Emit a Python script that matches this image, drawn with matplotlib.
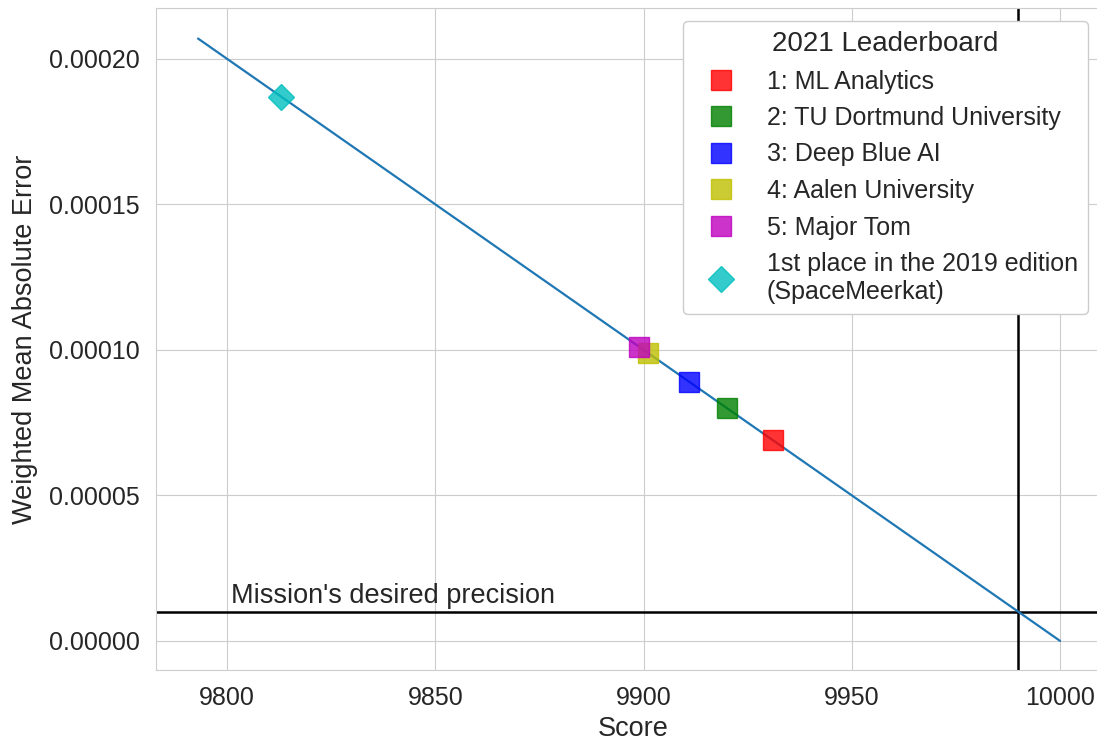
import matplotlib
matplotlib.use("Agg")
import matplotlib.pyplot as plt
import seaborn as sns
import numpy as np

sns.set_style("whitegrid")
plt.rcParams["font.family"] = ["Liberation Sans", "DejaVu Sans"]

# 2021 leaderboard (score, weighted MAE)
teams = [
    "1: ML Analytics",
    "2: TU Dortmund University",
    "3: Deep Blue AI",
    "4: Aalen University",
    "5: Major Tom",
]
team_scores = [9931, 9920, 9911, 9901, 9899]
team_wmae = [0.000069, 0.000080, 0.000089, 0.000099, 0.000101]
team_colors = ["r", "g", "b", "y", "m"]

# 2019 winner
prev_label = "1st place in the 2019 edition\n(SpaceMeerkat)"
prev_score = 9813
prev_wmae = 0.000187

# score = 10000 - 1e6 * wmae
line_scores = [9793, 10000]
line_wmae = [0.000207, 0.0]

target_wmae = 0.00001
target_score = 9990

fig = plt.figure(figsize=(10.97, 7.41), dpi=100)
ax = fig.add_axes([0.1422, 0.0958, 0.8697, 0.8934])

ax.plot(line_scores, line_wmae, color="#1f77b4", linewidth=1.6, zorder=2)
ax.axhline(target_wmae, color="k", linewidth=1.8, zorder=1)
ax.axvline(target_score, color="k", linewidth=1.8, zorder=1)
ax.text(9801, target_wmae + 0.0000010, "Mission's desired precision",
        fontsize=19.5, color=".15", va="bottom", ha="left")

for name, s, w, c in zip(teams, team_scores, team_wmae, team_colors):
    ax.plot(s, w, marker="s", markersize=14, color=c, alpha=0.8,
            linestyle="none", label=name, zorder=3)
ax.plot(prev_score, prev_wmae, marker="D", markersize=13, color="c",
        alpha=0.8, linestyle="none", label=prev_label, zorder=3)

ax.set_xlim(9782.9, 10012.0)
ax.set_ylim(-0.00001, 0.0002175)
ax.set_xticks([9800, 9850, 9900, 9950, 10000])
ax.set_yticks([0, 0.00005, 0.0001, 0.00015, 0.0002])
ax.set_yticklabels(["0.00000", "0.00005", "0.00010", "0.00015", "0.00020"])
ax.tick_params(labelsize=18, pad=8)
ax.set_xlabel("Score", fontsize=19.5, labelpad=4)
ax.set_ylabel("Weighted Mean Absolute Error", fontsize=19.5, labelpad=8)

leg = ax.legend(title="2021 Leaderboard", fontsize=18, title_fontsize=20,
                loc="upper right", bbox_to_anchor=(1088 / 1097, 1 - 21 / 741),
                bbox_transform=fig.transFigure, borderaxespad=0,
                frameon=True, handlelength=2.25, handletextpad=0.7,
                labelspacing=0.5)
leg.get_frame().set_facecolor("white")
leg.get_frame().set_alpha(1.0)

fig.savefig("out.png", dpi=100)
